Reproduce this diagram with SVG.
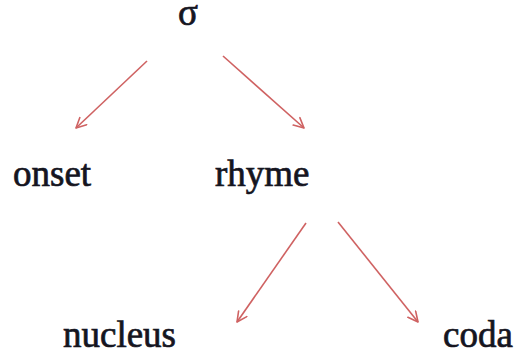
<svg xmlns="http://www.w3.org/2000/svg" width="515" height="354" viewBox="0 0 515 354">
<style>
.t{font-family:"Liberation Serif","Times New Roman",serif;font-size:37px;fill:#15151f;stroke:#15151f;stroke-width:0.7}
.c{stroke:#cf6262;stroke-width:1.6;fill:none;marker-end:url(#ah)}
</style>
<defs>
<marker id="ah" viewBox="0 0 12 12" refX="11" refY="6" markerWidth="12" markerHeight="12" markerUnits="userSpaceOnUse" orient="auto">
<path d="M1,1 L11,6 L1,11" fill="none" stroke="#cf6262" stroke-width="1.6" stroke-linecap="round" stroke-linejoin="round"/>
</marker>
</defs>
<rect width="515" height="354" fill="#fff"/>
<g id="connectors">
<line class="c" x1="147" y1="61" x2="76" y2="128"/>
<line class="c" x1="223" y1="56" x2="304" y2="128"/>
<line class="c" x1="306" y1="223" x2="237" y2="322"/>
<line class="c" x1="338" y1="222" x2="418" y2="322"/>
</g>
<g id="sigma"><text class="t" x="188" y="25" text-anchor="middle">σ</text></g>
<g id="onset"><text class="t" x="13" y="186">onset</text></g>
<g id="rhyme"><text class="t" x="215" y="186">rhyme</text></g>
<g id="nucleus"><text class="t" x="63" y="347">nucleus</text></g>
<g id="coda"><text class="t" x="443" y="347">coda</text></g>
</svg>
